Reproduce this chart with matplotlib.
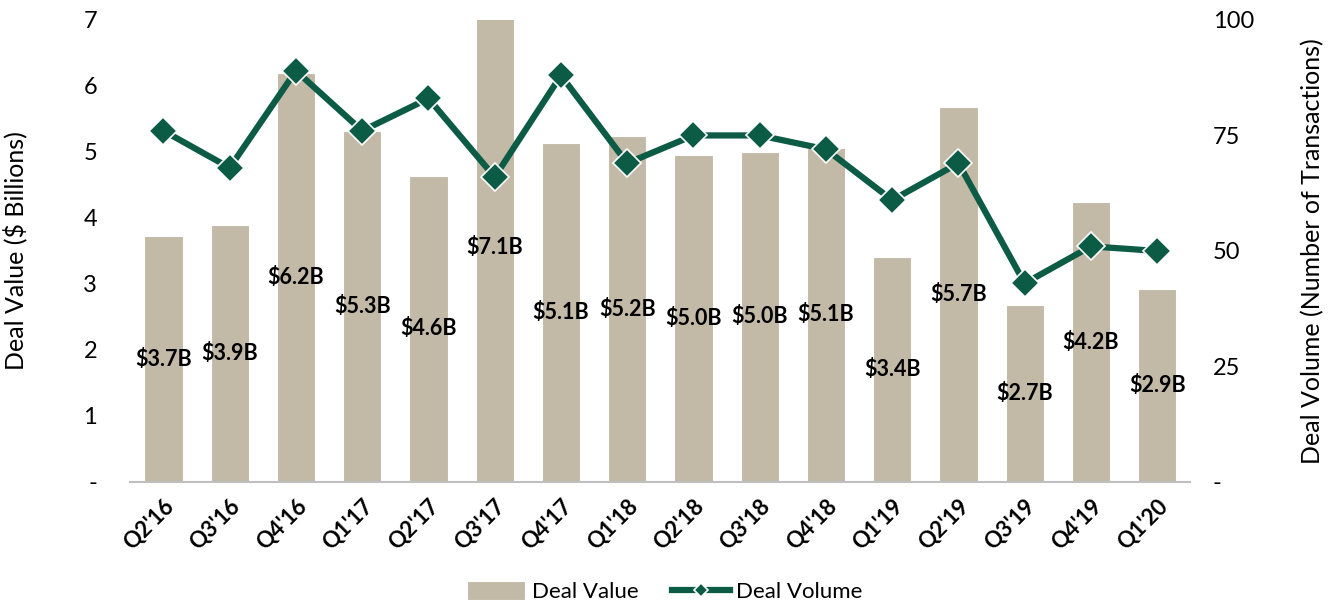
import matplotlib
matplotlib.use("Agg")
import matplotlib.pyplot as plt
import numpy as np

quarters = ["Q2'16", "Q3'16", "Q4'16", "Q1'17", "Q2'17", "Q3'17", "Q4'17", "Q1'18",
            "Q2'18", "Q3'18", "Q4'18", "Q1'19", "Q2'19", "Q3'19", "Q4'19", "Q1'20"]
deal_value = [3.72, 3.89, 6.20, 5.32, 4.64, 7.10, 5.14, 5.24,
              4.96, 5.00, 5.06, 3.41, 5.68, 2.68, 4.24, 2.92]
value_labels = ["$3.7B", "$3.9B", "$6.2B", "$5.3B", "$4.6B", "$7.1B", "$5.1B", "$5.2B",
                "$5.0B", "$5.0B", "$5.1B", "$3.4B", "$5.7B", "$2.7B", "$4.2B", "$2.9B"]
deal_volume = [76, 68, 89, 76, 83, 66, 88, 69, 75, 75, 72, 61, 69, 43, 51, 50]

plt.rcParams['font.family'] = ['Lato', 'DejaVu Sans']

bar_color = '#C2B9A7'
line_color = '#0B5B45'

fig = plt.figure(figsize=(13.3, 6.04), dpi=100)
ax = fig.add_axes([0.098, 0.202, 0.797, 0.765])
x = np.arange(len(quarters))

bars = ax.bar(x, deal_value, 0.58, color=bar_color, edgecolor='white', linewidth=0.8,
              label='Deal Value', zorder=2)
for xi, v, lab in zip(x, deal_value, value_labels):
    ax.text(xi, v / 2, lab, ha='center', va='center', fontsize=15.5,
            fontweight='bold', color='black', zorder=5)

ax.set_ylim(0, 7)
ax.set_xlim(-0.5, len(quarters) - 0.5)
ax.set_yticks(range(0, 8))
ax.set_yticklabels(['-'] + [str(i) for i in range(1, 8)])
ax.set_xticks(x)
ax.set_xticklabels(quarters, rotation=45, ha='right', rotation_mode='anchor',
                   fontsize=16, fontweight='bold')
ax.tick_params(axis='y', length=0, labelsize=17, pad=24)
ax.tick_params(axis='x', length=0, pad=10)
for s in ['top', 'left', 'right']:
    ax.spines[s].set_visible(False)
ax.spines['bottom'].set_color('#BFBFBF')
ax.spines['bottom'].set_linewidth(1.5)
ax.set_ylabel('Deal Value ($ Billions)', fontsize=18, labelpad=40)

ax2 = ax.twinx()
ax2.plot(x, deal_volume, color=line_color, linewidth=4.5, marker='D', markersize=14,
         markeredgecolor='white', markeredgewidth=1.2, label='Deal Volume', zorder=4)
ax2.set_ylim(0, 100)
ax2.set_yticks([0, 25, 50, 75, 100])
ax2.set_yticklabels(['-', '25', '50', '75', '100'])
ax2.tick_params(axis='y', length=0, labelsize=17, pad=16)
for s in ['top', 'left', 'right', 'bottom']:
    ax2.spines[s].set_visible(False)
ax2.set_ylabel('Deal Volume (Number of Transactions)', fontsize=18, labelpad=34)

h1, l1 = ax.get_legend_handles_labels()
h2, l2 = ax2.get_legend_handles_labels()
leg = fig.legend(h1 + h2, l1 + l2, loc='lower center', bbox_to_anchor=(0.5, -0.03),
                 ncol=2, frameon=False, fontsize=16, handlelength=2.6, markerscale=0.5,
                 columnspacing=1.5, handletextpad=0.3, handleheight=0.9)

fig.savefig('out.png', dpi=100)
